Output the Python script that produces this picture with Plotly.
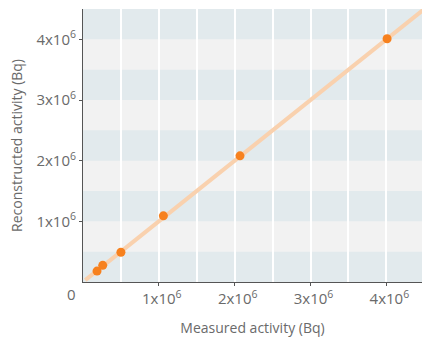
import plotly.graph_objects as go

measured = [0.185e6, 0.26e6, 0.50e6, 1.06e6, 2.07e6, 4.01e6]
reconstructed = [0.18e6, 0.275e6, 0.49e6, 1.09e6, 2.08e6, 4.01e6]
fit_x = [0.03e6, 4.5e6]
fit_y = [0.03e6, 4.5e6]
tick_vals = [1e6, 2e6, 3e6, 4e6]
tick_text = ["1x10<sup>6</sup>", "2x10<sup>6</sup>", "3x10<sup>6</sup>", "4x10<sup>6</sup>"]
band_starts = [0, 1e6, 2e6, 3e6, 4e6]
band_width = 0.5e6

font = "Open Sans"
grey = "#6a6a6a"
fig = go.Figure()
fig.add_trace(go.Scatter(x=fit_x, y=fit_y, mode="lines",
                         line=dict(color="#F9D1AE", width=4), hoverinfo="skip"))
fig.add_trace(go.Scatter(x=measured, y=reconstructed, mode="markers",
                         marker=dict(color="#F7811E", size=9)))

for b in band_starts:
    fig.add_shape(type="rect", xref="paper", yref="y", x0=0, x1=1, y0=b, y1=b + band_width,
                  fillcolor="#E2EAED", line=dict(width=0), layer="below")

fig.add_annotation(text="0", xref="paper", yref="paper", x=-0.035, y=0, yshift=-12,
                   xanchor="center", yanchor="middle", showarrow=False,
                   font=dict(family=font, size=15, color=grey))

tickfont = dict(family=font, size=15, color=grey)
fig.update_layout(
    width=422, height=340,
    margin=dict(l=83, r=0, t=9, b=58),
    plot_bgcolor="#F2F2F2", paper_bgcolor="white",
    showlegend=False,
    font=dict(family=font, size=14, color=grey),
    xaxis=dict(range=[0, 4.47e6], tickvals=tick_vals, ticktext=tick_text,
               tickfont=tickfont, ticklabelshift=3,
               showgrid=False, zeroline=False,
               showline=True, linecolor="#555555", linewidth=1,
               ticks="outside", ticklen=3, tickcolor="#555555",
               minor=dict(dtick=0.5e6, tick0=0, showgrid=True, gridcolor="white", gridwidth=2),
               title=dict(text="Measured activity (Bq)", standoff=16,
                          font=dict(size=14, color=grey))),
    yaxis=dict(range=[0, 4.5e6], tickvals=tick_vals, ticktext=tick_text,
               tickfont=tickfont,
               showgrid=False, zeroline=False,
               showline=True, linecolor="#555555", linewidth=1,
               ticks="outside", ticklen=3, tickcolor="#555555",
               title=dict(text="Reconstructed activity (Bq)", standoff=10,
                          font=dict(size=14, color=grey))),
)
fig.write_html("out.html", config={"displayModeBar": False},
               post_script="document.body.style.margin='0';document.body.style.overflow='hidden';")
